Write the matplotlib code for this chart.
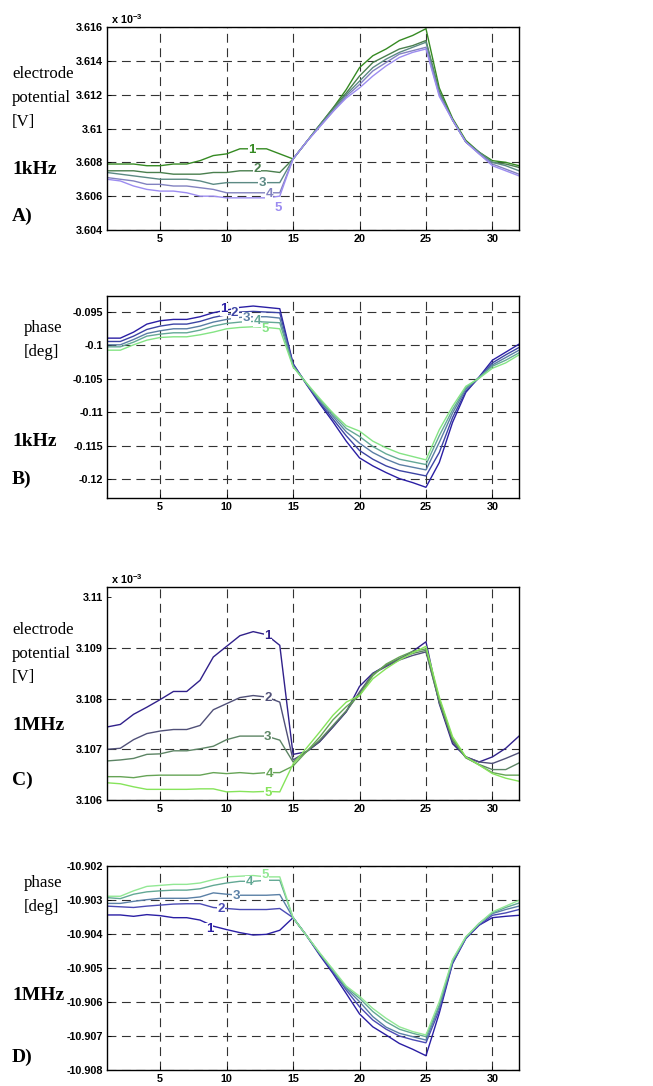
import matplotlib
matplotlib.use("Agg")
import matplotlib.pyplot as plt
import numpy as np

x = np.arange(1, 33)

# Panel A: electrode potential [V] x1e-3, 1 kHz
a1 = [3.6079, 3.6079, 3.6079, 3.6078, 3.6078, 3.6079, 3.6079, 3.6081, 3.6084, 3.6085, 3.6088, 3.6088,
      3.6088, 3.6085, 3.6082, 3.6092, 3.6102, 3.6112, 3.6123, 3.6136, 3.6143, 3.6147, 3.6152, 3.6155,
      3.6159, 3.6124, 3.6106, 3.6093, 3.6086, 3.6081, 3.6080, 3.6078]
a2 = [3.6075, 3.6075, 3.6075, 3.6074, 3.6074, 3.6073, 3.6073, 3.6073, 3.6074, 3.6074, 3.6075, 3.6075,
      3.6075, 3.6074, 3.6082, 3.6092, 3.6102, 3.6112, 3.6121, 3.6131, 3.6139, 3.6143, 3.6147, 3.6149,
      3.6152, 3.6122, 3.6105, 3.6092, 3.6086, 3.6080, 3.6079, 3.6077]
a3 = [3.6074, 3.6073, 3.6072, 3.6071, 3.6070, 3.6070, 3.6070, 3.6069, 3.6067, 3.6068, 3.6068, 3.6068,
      3.6068, 3.6068, 3.6082, 3.6092, 3.6102, 3.6111, 3.6120, 3.6128, 3.6136, 3.6141, 3.6145, 3.6148,
      3.6151, 3.6121, 3.6105, 3.6092, 3.6086, 3.6080, 3.6078, 3.6075]
a4 = [3.6071, 3.6070, 3.6069, 3.6067, 3.6067, 3.6066, 3.6066, 3.6065, 3.6064, 3.6062, 3.6062, 3.6062,
      3.6062, 3.6062, 3.6082, 3.6092, 3.6101, 3.6110, 3.6119, 3.6126, 3.6134, 3.6139, 3.6144, 3.6146,
      3.6148, 3.6120, 3.6105, 3.6092, 3.6085, 3.6079, 3.6076, 3.6073]
a5 = [3.6070, 3.6069, 3.6066, 3.6064, 3.6063, 3.6063, 3.6062, 3.6060, 3.6060, 3.6059, 3.6059, 3.6059,
      3.6059, 3.6060, 3.6082, 3.6092, 3.6101, 3.6110, 3.6118, 3.6124, 3.6131, 3.6137, 3.6142, 3.6145,
      3.6147, 3.6119, 3.6105, 3.6092, 3.6085, 3.6078, 3.6075, 3.6072]

# Panel B: phase [deg], 1 kHz
b1 = [-0.0989, -0.0989, -0.0980, -0.0968, -0.0963, -0.0961, -0.0961, -0.0957, -0.0951, -0.0947, -0.0943, -0.0941,
      -0.0943, -0.0945, -0.1027, -0.1058, -0.1087, -0.1114, -0.1143, -0.1168, -0.1180, -0.1190, -0.1199, -0.1205,
      -0.1212, -0.1175, -0.1115, -0.1070, -0.1047, -0.1022, -0.1010, -0.0998]
b2 = [-0.0994, -0.0994, -0.0986, -0.0976, -0.0971, -0.0968, -0.0968, -0.0964, -0.0958, -0.0954, -0.0950, -0.0949,
      -0.0950, -0.0951, -0.1028, -0.1057, -0.1085, -0.1110, -0.1135, -0.1157, -0.1170, -0.1180, -0.1187, -0.1191,
      -0.1195, -0.1160, -0.1108, -0.1068, -0.1048, -0.1026, -0.1014, -0.1003]
b3 = [-0.0999, -0.0999, -0.0991, -0.0982, -0.0978, -0.0975, -0.0975, -0.0971, -0.0965, -0.0961, -0.0958, -0.0957,
      -0.0957, -0.0959, -0.1030, -0.1057, -0.1083, -0.1106, -0.1129, -0.1146, -0.1160, -0.1170, -0.1178, -0.1182,
      -0.1186, -0.1145, -0.1101, -0.1065, -0.1048, -0.1029, -0.1018, -0.1007]
b4 = [-0.1002, -0.1002, -0.0995, -0.0986, -0.0983, -0.0981, -0.0981, -0.0977, -0.0971, -0.0967, -0.0965, -0.0964,
      -0.0965, -0.0966, -0.1031, -0.1056, -0.1081, -0.1103, -0.1124, -0.1136, -0.1151, -0.1162, -0.1170, -0.1174,
      -0.1178, -0.1135, -0.1096, -0.1063, -0.1048, -0.1031, -0.1022, -0.1011]
b5 = [-0.1007, -0.1007, -0.0999, -0.0992, -0.0988, -0.0987, -0.0987, -0.0984, -0.0980, -0.0975, -0.0973, -0.0972,
      -0.0973, -0.0975, -0.1032, -0.1056, -0.1079, -0.1101, -0.1120, -0.1128, -0.1143, -0.1153, -0.1161, -0.1166,
      -0.1171, -0.1126, -0.1091, -0.1061, -0.1049, -0.1034, -0.1026, -0.1014]

# Panel C: electrode potential [V] x1e-3, 1 MHz
c1 = [3.10744, 3.10749, 3.10769, 3.10783, 3.10798, 3.10814, 3.10814, 3.10836, 3.10882, 3.10903, 3.10924, 3.10932,
      3.10926, 3.10905, 3.10690, 3.10695, 3.10715, 3.10744, 3.10774, 3.10824, 3.10850, 3.10865, 3.10878, 3.10893,
      3.10912, 3.10790, 3.10711, 3.10685, 3.10675, 3.10685, 3.10702, 3.10726]
c2 = [3.10700, 3.10702, 3.10719, 3.10731, 3.10736, 3.10739, 3.10739, 3.10747, 3.10778, 3.10790, 3.10802, 3.10806,
      3.10803, 3.10793, 3.10679, 3.10695, 3.10715, 3.10744, 3.10774, 3.10813, 3.10849, 3.10863, 3.10876, 3.10885,
      3.10892, 3.10793, 3.10715, 3.10685, 3.10675, 3.10672, 3.10682, 3.10693]
c3 = [3.10677, 3.10679, 3.10682, 3.10690, 3.10691, 3.10697, 3.10697, 3.10701, 3.10706, 3.10719, 3.10726, 3.10726,
      3.10726, 3.10718, 3.10675, 3.10695, 3.10718, 3.10747, 3.10776, 3.10810, 3.10848, 3.10866, 3.10879, 3.10889,
      3.10895, 3.10793, 3.10719, 3.10683, 3.10670, 3.10660, 3.10660, 3.10673]
c4 = [3.10646, 3.10646, 3.10644, 3.10648, 3.10649, 3.10649, 3.10649, 3.10649, 3.10654, 3.10652, 3.10654, 3.10652,
      3.10654, 3.10654, 3.10667, 3.10695, 3.10724, 3.10758, 3.10784, 3.10806, 3.10845, 3.10868, 3.10882, 3.10893,
      3.10898, 3.10800, 3.10721, 3.10684, 3.10669, 3.10654, 3.10649, 3.10649]
c5 = [3.10634, 3.10632, 3.10626, 3.10621, 3.10621, 3.10621, 3.10621, 3.10622, 3.10622, 3.10616, 3.10617, 3.10616,
      3.10617, 3.10616, 3.10671, 3.10702, 3.10734, 3.10767, 3.10793, 3.10806, 3.10839, 3.10859, 3.10876, 3.10890,
      3.10903, 3.10803, 3.10725, 3.10685, 3.10669, 3.10652, 3.10643, 3.10637]

# Panel D: phase [deg], 1 MHz
d1 = [-10.90344, -10.90344, -10.90348, -10.90343, -10.90346, -10.90352, -10.90352, -10.90359, -10.90377, -10.90387,
      -10.90396, -10.90403, -10.90401, -10.90389, -10.90352, -10.90404, -10.90462, -10.90516, -10.90575, -10.90635,
      -10.90673, -10.90697, -10.90722, -10.90739, -10.90758, -10.90633, -10.90487, -10.90413, -10.90374, -10.90352,
      -10.90348, -10.90345]
d2 = [-10.90318, -10.90320, -10.90322, -10.90318, -10.90315, -10.90312, -10.90311, -10.90311, -10.90322, -10.90325,
      -10.90328, -10.90328, -10.90328, -10.90325, -10.90352, -10.90404, -10.90459, -10.90511, -10.90565, -10.90614,
      -10.90653, -10.90680, -10.90700, -10.90711, -10.90720, -10.90624, -10.90485, -10.90413, -10.90374, -10.90345,
      -10.90338, -10.90328]
d3 = [-10.90310, -10.90310, -10.90304, -10.90299, -10.90295, -10.90295, -10.90295, -10.90291, -10.90279, -10.90283,
      -10.90286, -10.90286, -10.90286, -10.90284, -10.90352, -10.90404, -10.90457, -10.90508, -10.90560, -10.90599,
      -10.90643, -10.90674, -10.90692, -10.90702, -10.90712, -10.90614, -10.90482, -10.90410, -10.90369, -10.90340,
      -10.90328, -10.90318]
d4 = [-10.90293, -10.90296, -10.90283, -10.90276, -10.90273, -10.90271, -10.90271, -10.90267, -10.90257, -10.90250,
      -10.90245, -10.90245, -10.90242, -10.90242, -10.90352, -10.90404, -10.90457, -10.90506, -10.90557, -10.90589,
      -10.90628, -10.90658, -10.90680, -10.90692, -10.90702, -10.90609, -10.90477, -10.90410, -10.90369, -10.90338,
      -10.90322, -10.90309]
d5 = [-10.90289, -10.90289, -10.90273, -10.90260, -10.90257, -10.90254, -10.90254, -10.90250, -10.90240, -10.90232,
      -10.90230, -10.90228, -10.90232, -10.90232, -10.90352, -10.90404, -10.90455, -10.90504, -10.90553, -10.90583,
      -10.90619, -10.90648, -10.90673, -10.90687, -10.90697, -10.90599, -10.90475, -10.90408, -10.90369, -10.90335,
      -10.90318, -10.90301]

xticks = [5, 10, 15, 20, 25, 30]
yticksA = [3.604, 3.606, 3.608, 3.610, 3.612, 3.614, 3.616]
yticksB = [-0.120, -0.115, -0.110, -0.105, -0.100, -0.095]
yticksC = [3.106, 3.107, 3.108, 3.109, 3.110]
yticksD = [-10.908, -10.907, -10.906, -10.905, -10.904, -10.903, -10.902]
ylabelsA = ["3.604", "3.606", "3.608", "3.61", "3.612", "3.614", "3.616"]
ylabelsB = ["-0.12", "-0.115", "-0.11", "-0.105", "-0.1", "-0.095"]
ylabelsC = ["3.106", "3.107", "3.108", "3.109", "3.11"]
ylabelsD = ["-10.908", "-10.907", "-10.906", "-10.905", "-10.904", "-10.903", "-10.902"]

colA = ["#358a22", "#4a7f4e", "#5c8a84", "#8282c0", "#9c8cf0"]
colB = ["#2a1ea4", "#3c44a4", "#5a7ea4", "#64a896", "#84e484"]
colC = ["#30208a", "#505078", "#5c8464", "#66a456", "#86e45a"]
colD = ["#2a1ea4", "#4a4ab4", "#5a80a6", "#62a894", "#92e894"]

W, H = 653, 1086
fig = plt.figure(figsize=(W / 100, H / 100), dpi=100)

def ax_rect(top, bottom, left=107, right=519):
    return [left / W, 1 - bottom / H, (right - left) / W, (bottom - top) / H]

tickfont = dict(family="Liberation Sans", weight="bold", size=7.8)
serif = "Liberation Serif"

def setup(ax, ylim, yt, yl, hide_top_grid=False):
    ax.set_xlim(1, 32)
    ax.set_ylim(*ylim)
    ax.set_xticks(xticks)
    ax.set_xticklabels([str(t) for t in xticks], fontdict=tickfont)
    ax.set_yticks(yt)
    ax.set_yticklabels(yl, fontdict=tickfont)
    ax.tick_params(direction="in", length=3, width=0.6, pad=3)
    ax.grid(True, color="#333333", linestyle=(0, (8, 5)), linewidth=0.8)
    for s in ax.spines.values():
        s.set_linewidth(1.0)
    if hide_top_grid:
        ax.get_ygridlines()[-1].set_visible(False)

def draw(ax, series, cols, labs):
    for s, c in zip(series, cols):
        ax.plot(x, s, color=c, linewidth=1.0)
    for (lx, ly), c, t in zip(labs, cols, ["1", "2", "3", "4", "5"]):
        ax.text(lx, ly, t, color=c, fontsize=9.5, fontweight="bold", family="Liberation Sans",
                ha="center", va="center",
                bbox=dict(facecolor="white", edgecolor="none", pad=0.3))

axA = fig.add_axes(ax_rect(27, 230))
draw(axA, [a1, a2, a3, a4, a5], colA,
     [(11.9, 3.6087), (12.3, 3.6076), (12.7, 3.6068), (13.2, 3.6061), (13.9, 3.6053)])
setup(axA, (3.604, 3.616), yticksA, ylabelsA)

axB = fig.add_axes(ax_rect(296, 498))
draw(axB, [b1, b2, b3, b4, b5], colB,
     [(9.8, -0.0946), (10.6, -0.0952), (11.5, -0.0959), (12.3, -0.0963), (12.9, -0.0976)])
setup(axB, (-0.1228, -0.0926), yticksB, ylabelsB)

axC = fig.add_axes(ax_rect(587, 800))
draw(axC, [c1, c2, c3, c4, c5], colC,
     [(13.1, 3.10923), (13.1, 3.10801), (13.1, 3.10725), (13.2, 3.10652), (13.1, 3.10614)])
setup(axC, (3.106, 3.1102), yticksC, ylabelsC, hide_top_grid=True)

axD = fig.add_axes(ax_rect(866, 1070))
draw(axD, [d1, d2, d3, d4, d5], colD,
     [(8.7, -10.90385), (9.6, -10.90326), (10.7, -10.90288), (11.7, -10.90248), (12.9, -10.90227)])
setup(axD, (-10.908, -10.902), yticksD, ylabelsD)

# multiplier labels
for ax in (axA, axC):
    ax.text(0.01, 1.005, r"x 10$^{\mathregular{-3}}$", transform=ax.transAxes, fontsize=7.8,
            fontweight="bold", family="Liberation Sans", ha="left", va="bottom")

def ftext(px, py, s, bold=False):
    fig.text(px / W, 1 - py / H, s, family=serif, fontsize=14 if bold else 12.2,
             fontweight="bold" if bold else "normal", ha="left", va="center")

# Panel A side labels
ftext(12, 74, "electrode"); ftext(12, 98, "potential"); ftext(12, 122, "[V]")
ftext(12, 170, "1kHz", bold=True); ftext(12, 216, "A)", bold=True)
# Panel B
ftext(24, 328, "phase"); ftext(24, 352, "[deg]")
ftext(12, 441, "1kHz", bold=True); ftext(12, 479, "B)", bold=True)
# Panel C
ftext(12, 630, "electrode"); ftext(12, 654, "potential"); ftext(12, 677, "[V]")
ftext(12, 725, "1MHz", bold=True); ftext(12, 780, "C)", bold=True)
# Panel D
ftext(24, 883, "phase"); ftext(24, 907, "[deg]")
ftext(12, 995, "1MHz", bold=True); ftext(12, 1057, "D)", bold=True)

fig.savefig("out.png", dpi=100)
